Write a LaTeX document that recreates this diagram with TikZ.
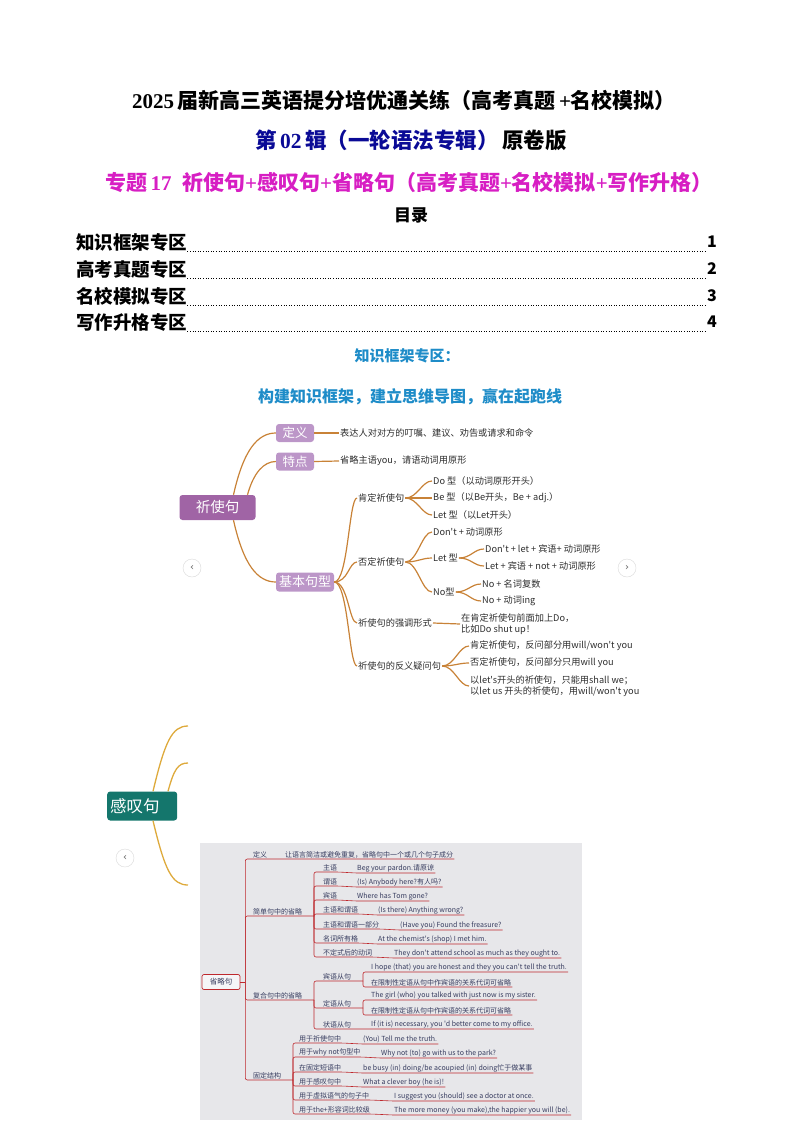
\documentclass[tikz,border=0pt]{standalone}
\usepackage{fontspec}
\setmainfont{Noto Sans CJK SC}[Ligatures=TeXOff]
\newfontfamily\tnr{Liberation Serif}
\newfontfamily\symf{DejaVu Sans}
\usetikzlibrary{positioning,calc}
\definecolor{inkDark}{RGB}{45, 45, 45}
\definecolor{titleBlue}{RGB}{10, 10, 150}
\definecolor{titleMagenta}{RGB}{215, 30, 195}
\definecolor{sectBlue}{RGB}{30, 140, 200}
\definecolor{mapPurple}{RGB}{160, 100, 165}
\definecolor{mapLilac}{RGB}{188, 150, 200}
\definecolor{mapOrange}{RGB}{200, 130, 55}
\definecolor{mapTeal}{RGB}{20, 118, 108}
\definecolor{mapGold}{RGB}{222, 170, 60}
\definecolor{shotGray}{RGB}{231, 231, 234}
\definecolor{shotRed}{RGB}{190, 40, 45}
\definecolor{shotInk}{RGB}{55, 60, 95}

\begin{document}
\begin{tikzpicture}[x=1pt, y=-1pt,
    toc/.style={anchor=west, inner sep=0pt, font=\bfseries\fontsize{18.5pt}{18.5pt}\selectfont},
    tocnum/.style={anchor=east, inner sep=0pt, font=\bfseries\fontsize{16pt}{16pt}\selectfont},
    mapbox/.style={rounded corners=3pt, fill=mapLilac, text=white, inner sep=0pt, font=\fontsize{12.5pt}{13pt}\selectfont},
    leaf/.style={anchor=west, inner sep=1pt, text=inkDark, font=\fontsize{9.2pt}{11pt}\selectfont},
    mapline/.style={draw=mapOrange, line width=1.2pt},
    goldline/.style={draw=mapGold, line width=1.3pt},
    navbtn/.style={circle, draw=black!15, fill=white, minimum size=18pt, inner sep=0pt, text=black!60, font=\symf\fontsize{10pt}{10pt}\selectfont},
    sx/.style={anchor=south west, inner sep=1pt, text=shotInk, font=\fontsize{7pt}{8pt}\selectfont},
    shotline/.style={draw=shotRed, line width=0.6pt, rounded corners=2pt}]
  \useasboundingbox (0,0) rectangle (794,1123);

  % header
  \node (title) at (404,100) {\bfseries\fontsize{21pt}{22pt}\selectfont {\tnr 2025}\,届新高三英语提分培优通关练（高考真题\,{\tnr +}名校模拟）};
  \node (vol) at (411,140) {\bfseries\fontsize{21.5pt}{22pt}\selectfont {\color{titleBlue}第\,{\tnr 02}\,辑（一轮语法专辑）}\,原卷版};
  \node (topic) at (409,182) {\bfseries\fontsize{21pt}{22pt}\selectfont\color{titleMagenta}专题\,{\tnr 17}\enspace 祈使句{\tnr +}感叹句{\tnr +}省略句（高考真题{\tnr +}名校模拟{\tnr +}写作升格）};
  \node (mulu) at (411,215) {\bfseries\fontsize{17pt}{17pt}\selectfont 目录};

  % table of contents
  \node (tocA) [toc] at (76,242) {知识框架专区};
  \node (tocB) [toc] at (76,269) {高考真题专区};
  \node (tocC) [toc] at (76,296) {名校模拟专区};
  \node (tocD) [toc] at (76,322) {写作升格专区};
  \node (numA) [tocnum] at (717,242) {1};
  \node (numB) [tocnum] at (717,269) {2};
  \node (numC) [tocnum] at (717,296) {3};
  \node (numD) [tocnum] at (717,322) {4};
  \draw[dotted, line width=0.6pt, shorten >=2pt] (tocA.south east) -- (tocA.south east -| numA.west);
  \draw[dotted, line width=0.6pt, shorten >=2pt] (tocB.south east) -- (tocB.south east -| numB.west);
  \draw[dotted, line width=0.6pt, shorten >=2pt] (tocC.south east) -- (tocC.south east -| numC.west);
  \draw[dotted, line width=0.6pt, shorten >=2pt] (tocD.south east) -- (tocD.south east -| numD.west);

  \node (sect) at (407,356) {\bfseries\fontsize{15pt}{15pt}\selectfont\color{sectBlue}知识框架专区：};
  \node (motto) at (410,397) {\bfseries\fontsize{16pt}{16pt}\selectfont\color{sectBlue}构建知识框架，建立思维导图，赢在起跑线};

  % mind map: qishi ju
  \node (qs) [mapbox, fill=mapPurple, minimum width=76pt, minimum height=25pt, font=\fontsize{14.5pt}{15pt}\selectfont] at (217.5,507.5) {祈使句};
  \node (dy) [mapbox, minimum width=38pt, minimum height=18pt] at (295,433) {定义};
  \node (td) [mapbox, minimum width=38pt, minimum height=18pt] at (295,461.5) {特点};
  \node (jb) [mapbox, minimum width=58pt, minimum height=19pt, font=\fontsize{13pt}{13pt}\selectfont] at (305,582) {基本句型};

  \draw[mapline] ($(qs.north)+(16,0)$) .. controls +(10,-45) and +(-18,0) .. (dy.west);
  \draw[mapline] ($(qs.north)+(30,0)$) .. controls +(6,-22) and +(-12,0) .. (td.west);
  \draw[mapline] ($(qs.south)+(16,0)$) .. controls +(10,45) and +(-18,0) .. (jb.west);

  \node (dyT) [leaf] at (339,433) {表达人对对方的叮嘱、建议、劝告或请求和命令};
  \node (tdT) [leaf] at (339,461) {省略主语you，请语动词用原形};
  \draw[mapline] (dy.east) -- (dyT.west);
  \draw[mapline] (td.east) -- (tdT.west);

  \node (kd) [leaf] at (357,498) {肯定祈使句};
  \node (fd) [leaf] at (357,562) {否定祈使句};
  \node (qd) [leaf] at (357,623) {祈使句的强调形式};
  \node (fy) [leaf] at (357,666) {祈使句的反义疑问句};
  \draw[mapline] (jb.east) .. controls +(14,0) and +(-8,0) .. (kd.west);
  \draw[mapline] (jb.east) .. controls +(14,0) and +(-8,0) .. (fd.west);
  \draw[mapline] (jb.east) .. controls +(14,0) and +(-8,0) .. (qd.west);
  \draw[mapline] (jb.east) .. controls +(14,0) and +(-8,0) .. (fy.west);

  \node (doT) [leaf] at (432,481) {Do 型（以动词原形开头）};
  \node (beT) [leaf] at (432,498) {Be 型（以Be开头，Be + adj.）};
  \node (letT) [leaf] at (432,515) {Let 型（以Let开头）};
  \draw[mapline] (kd.east) .. controls +(12,0) and +(-10,0) .. (doT.west);
  \draw[mapline] (kd.east) -- (beT.west);
  \draw[mapline] (kd.east) .. controls +(12,0) and +(-10,0) .. (letT.west);

  \node (dnT) [leaf] at (432,532) {Don't + 动词原形};
  \node (lx) [leaf] at (432,558) {Let 型};
  \node (nx) [leaf] at (432,592) {No型};
  \draw[mapline] (fd.east) .. controls +(12,0) and +(-10,0) .. (dnT.west);
  \draw[mapline] (fd.east) .. controls +(12,0) and +(-10,0) .. (lx.west);
  \draw[mapline] (fd.east) .. controls +(12,0) and +(-10,0) .. (nx.west);

  \node (lx1) [leaf] at (484,549) {Don't + let + 宾语+ 动词原形};
  \node (lx2) [leaf] at (484,566) {Let + 宾语 + not + 动词原形};
  \draw[mapline] (lx.east) .. controls +(12,0) and +(-10,0) .. (lx1.west);
  \draw[mapline] (lx.east) .. controls +(12,0) and +(-10,0) .. (lx2.west);
  \node (nx1) [leaf] at (481,584) {No + 名词复数};
  \node (nx2) [leaf] at (481,601) {No + 动词ing};
  \draw[mapline] (nx.east) .. controls +(12,0) and +(-10,0) .. (nx1.west);
  \draw[mapline] (nx.east) .. controls +(12,0) and +(-10,0) .. (nx2.west);

  \node (qdT) [leaf, align=left] at (460,624) {在肯定祈使句前面加上Do，\\比如Do shut up！};
  \draw[mapline] (qd.east) -- (qdT.west);

  \node (fy1) [leaf] at (469,646) {肯定祈使句，反问部分用will/won't you};
  \node (fy2) [leaf] at (469,663) {否定祈使句，反问部分只用will you};
  \node (fy3) [leaf, align=left] at (469,686) {以let's开头的祈使句，只能用shall we；\\以let us 开头的祈使句，用will/won't you};
  \draw[mapline] (fy.east) .. controls +(12,0) and +(-10,0) .. (fy1.west);
  \draw[mapline] (fy.east) .. controls +(12,0) and +(-10,0) .. (fy2.west);
  \draw[mapline] (fy.east) .. controls +(12,0) and +(-10,0) .. (fy3.west);

  \node (navL) [navbtn] at (192,568) {‹};
  \node (navR) [navbtn] at (627,568) {›};

  % mind map: gantan ju
  \node (gt) [anchor=west, fill=mapTeal, rounded corners=3pt, text=white, inner xsep=3pt, inner ysep=0pt, text width=64pt, minimum height=29pt, align=left, font=\fontsize{16.5pt}{17pt}\selectfont] at (107,806) {感叹句};
  \coordinate (gtA) at (188,726);
  \coordinate (gtB) at (188,763);
  \coordinate (gtC) at (188,885);
  \draw[goldline] ($(gt.north west)+(46,0)$) .. controls +(12,-50) and +(-16,0) .. (gtA);
  \draw[goldline] ($(gt.north west)+(61,0)$) .. controls +(6,-22) and +(-10,0) .. (gtB);
  \draw[goldline] ($(gt.south west)+(46,0)$) .. controls +(12,50) and +(-16,0) .. (gtC);
  \node (navG) [navbtn] at (125,858) {‹};

  % mind map: shenglue ju (screenshot)
  \fill[shotGray] (200,843) rectangle (582,1120);
  \node (sl) [draw=shotRed, line width=0.7pt, fill=white!60!shotGray, rounded corners=2pt, minimum width=38pt, minimum height=15pt, inner sep=0pt, text=shotInk, font=\fontsize{7.5pt}{8pt}\selectfont] at (221,982) {省略句};
  \coordinate (slJ) at ($(sl.east)+(5,0)$);
  \draw[shotline] (sl.east) -- (slJ);

  \node (sDef) [sx] at (252,859) {定义};
  \node (sDefT) [sx] at (284,859) {让语言简洁或避免重复，省略句中一个或几个句子成分};
  \draw[shotline] (slJ) |- (sDef.south west) -- (sDef.south east) -- (sDefT.south west) -- (sDefT.south east);

  \node (sJd) [sx] at (252,916) {简单句中的省略};
  \coordinate (jdJ) at ($(sJd.south west)+(62,0)$);
  \draw[shotline] (slJ) |- (sJd.south west) -- (jdJ);
  \node (s1) [sx] at (322,872) {主语};
  \node (s1T) [sx] at (356,873) {Beg your pardon.请原谅};
  \node (s2) [sx] at (322,886) {谓语};
  \node (s2T) [sx] at (356,887) {(Is) Anybody here?有人吗?};
  \node (s3) [sx] at (322,900) {宾语};
  \node (s3T) [sx] at (356,901) {Where has Tom gone?};
  \node (s4) [sx] at (322,914) {主语和谓语};
  \node (s4T) [sx] at (377,915) {(Is there) Anything wrong?};
  \node (s5) [sx] at (322,929) {主语和谓语一部分};
  \node (s5T) [sx] at (399,930) {(Have you) Found the freasure?};
  \node (s6) [sx] at (322,943) {名词所有格};
  \node (s6T) [sx] at (377,944) {At the chemist's (shop) I met him.};
  \node (s7) [sx] at (322,957) {不定式后的动词};
  \node (s7T) [sx] at (393,958) {They don't attend school as much as they ought to.};
  \draw[shotline] (jdJ) |- (s1.south west) -- (s1.south east) -- (s1T.south west) -- (s1T.south east);
  \draw[shotline] (jdJ) |- (s2.south west) -- (s2.south east) -- (s2T.south west) -- (s2T.south east);
  \draw[shotline] (jdJ) |- (s3.south west) -- (s3.south east) -- (s3T.south west) -- (s3T.south east);
  \draw[shotline] (jdJ) |- (s4.south west) -- (s4.south east) -- (s4T.south west) -- (s4T.south east);
  \draw[shotline] (jdJ) |- (s5.south west) -- (s5.south east) -- (s5T.south west) -- (s5T.south east);
  \draw[shotline] (jdJ) |- (s6.south west) -- (s6.south east) -- (s6T.south west) -- (s6T.south east);
  \draw[shotline] (jdJ) |- (s7.south west) -- (s7.south east) -- (s7T.south west) -- (s7T.south east);

  \node (sFh) [sx] at (252,1000) {复合句中的省略};
  \coordinate (fhJ) at ($(sFh.south west)+(62,0)$);
  \draw[shotline] (slJ) |- (sFh.south west) -- (fhJ);
  \node (s8) [sx] at (322,981) {宾语从句};
  \coordinate (s8J) at ($(s8.south west)+(41,0)$);
  \node (s8a) [sx] at (370,972) {I hope (that) you are honest and they you can't tell the truth.};
  \node (s8b) [sx] at (370,987) {在限制性定语从句中作宾语的关系代词可省略};
  \draw[shotline] (fhJ) |- (s8.south west) -- (s8J);
  \draw[shotline] (s8J) |- (s8a.south west) -- (s8a.south east);
  \draw[shotline] (s8J) |- (s8b.south west) -- (s8b.south east);
  \node (s9) [sx] at (322,1008) {定语从句};
  \coordinate (s9J) at ($(s9.south west)+(41,0)$);
  \node (s9a) [sx] at (370,1000) {The girl (who) you talked with just now is my sister.};
  \node (s9b) [sx] at (370,1015) {在限制性定语从句中作宾语的关系代词可省略};
  \draw[shotline] (fhJ) |- (s9.south west) -- (s9J);
  \draw[shotline] (s9J) |- (s9a.south west) -- (s9a.south east);
  \draw[shotline] (s9J) |- (s9b.south west) -- (s9b.south east);
  \node (s10) [sx] at (322,1029) {状语从句};
  \node (s10T) [sx] at (370,1029) {If (it is) necessary, you 'd better come to my office.};
  \draw[shotline] (fhJ) |- (s10.south west) -- (s10.south east) -- (s10T.south west) -- (s10T.south east);

  \node (sGd) [sx] at (252,1080) {固定结构};
  \coordinate (gdJ) at ($(sGd.south west)+(41,0)$);
  \draw[shotline] (slJ) |- (sGd.south west) -- (gdJ);
  \node (g1) [sx] at (298,1043) {用于祈使句中};
  \node (g1T) [sx] at (362,1044) {(You) Tell me the truth.};
  \node (g2) [sx] at (298,1057) {用于why not句型中};
  \node (g2T) [sx] at (380,1058) {Why not (to) go with us to the park?};
  \node (g3) [sx] at (298,1072) {在固定短语中};
  \node (g3T) [sx] at (362,1073) {be busy (in) doing/be acoupied (in) doing忙于做某事};
  \node (g4) [sx] at (298,1086) {用于感叹句中};
  \node (g4T) [sx] at (362,1087) {What a clever boy (he is)!};
  \node (g5) [sx] at (298,1100) {用于虚拟语气的句子中};
  \node (g5T) [sx] at (393,1101) {I suggest you (should) see a doctor at once.};
  \node (g6) [sx] at (298,1114) {用于the+形容词比较级};
  \node (g6T) [sx] at (393,1115) {The more money (you make),the happier you will (be).};
  \draw[shotline] (gdJ) |- (g1.south west) -- (g1.south east) -- (g1T.south west) -- (g1T.south east);
  \draw[shotline] (gdJ) |- (g2.south west) -- (g2.south east) -- (g2T.south west) -- (g2T.south east);
  \draw[shotline] (gdJ) |- (g3.south west) -- (g3.south east) -- (g3T.south west) -- (g3T.south east);
  \draw[shotline] (gdJ) |- (g4.south west) -- (g4.south east) -- (g4T.south west) -- (g4T.south east);
  \draw[shotline] (gdJ) |- (g5.south west) -- (g5.south east) -- (g5T.south west) -- (g5T.south east);
  \draw[shotline] (gdJ) |- (g6.south west) -- (g6.south east) -- (g6T.south west) -- (g6T.south east);
\end{tikzpicture}
\end{document}
